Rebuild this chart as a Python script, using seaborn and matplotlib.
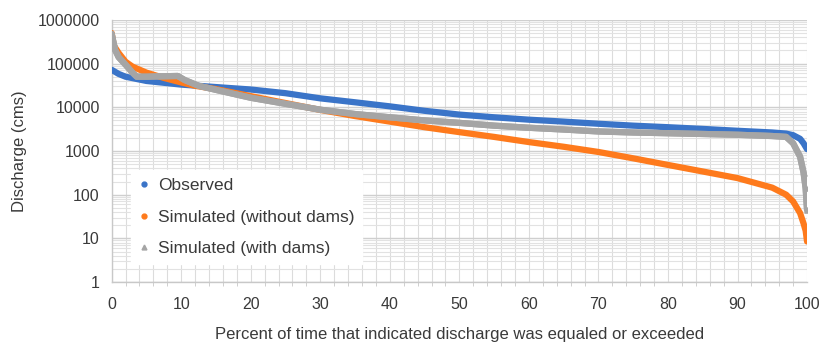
import numpy as np
import pandas as pd
import matplotlib
matplotlib.use("Agg")
import matplotlib.pyplot as plt
import seaborn as sns
from matplotlib.lines import Line2D
from matplotlib.ticker import LogLocator, MultipleLocator, FixedLocator

# flow duration curves
obs_pct = [0, 1, 2, 5, 10, 15, 20, 25, 30, 35, 40, 45, 50, 55, 60, 65, 70, 75, 80, 85, 90, 95, 97, 98, 99, 99.5, 100]
obs_q = [72000, 58000, 50000, 40000, 33000, 29000, 25500, 21000, 16000, 13000, 10500, 8300, 6800, 5900, 5200, 4700, 4200, 3800, 3500, 3200, 2900, 2650, 2500, 2300, 1900, 1500, 1100]

nodam_pct = [0, 0.3, 1, 2, 3, 5, 7.5, 10, 12, 15, 20, 25, 30, 35, 40, 45, 50, 55, 60, 65, 70, 75, 80, 85, 90, 95, 97, 98, 99, 99.5, 99.8, 100]
nodam_q = [500000, 260000, 175000, 110000, 85000, 62000, 47000, 37000, 31000, 26000, 18000, 12500, 8700, 6300, 4700, 3500, 2700, 2100, 1600, 1250, 950, 680, 480, 340, 240, 145, 100, 70, 38, 22, 15, 8.5]

dam_pct = [0, 0.5, 1, 2, 3, 3.6, 5, 7, 9.5, 10.5, 12.5, 15, 20, 25, 30, 35, 40, 45, 50, 55, 60, 65, 70, 75, 80, 85, 90, 95, 97, 98, 99, 99.5, 99.8, 100]
dam_q = [480000, 205000, 140000, 94000, 62000, 50000, 50000, 51000, 52000, 42000, 31000, 25000, 16500, 12000, 8800, 7000, 5900, 5000, 4400, 3800, 3400, 3100, 2800, 2650, 2550, 2450, 2350, 2200, 2100, 1500, 740, 320, 140, 45]

series = ["Observed", "Simulated (without dams)", "Simulated (with dams)"]
colors = ["#3a74c8", "#fe7a1c", "#a5a5a5"]

df = pd.concat([
    pd.DataFrame({"pct": obs_pct, "q": obs_q, "series": series[0]}),
    pd.DataFrame({"pct": nodam_pct, "q": nodam_q, "series": series[1]}),
    pd.DataFrame({"pct": dam_pct, "q": dam_q, "series": series[2]}),
])

sns.set_style("white")
plt.rcParams['font.family'] = ['Liberation Sans', 'DejaVu Sans']
txt = "#3a3a3a"

fig = plt.figure(figsize=(8.21, 3.42), dpi=100)
ax = fig.add_axes([0.136, 0.175, 0.847, 0.767])

sns.lineplot(data=df, x="pct", y="q", hue="series", palette=dict(zip(series, colors)),
             hue_order=series, sort=False,
             linewidth=4.5, legend=False, ax=ax, zorder=3)
# grey curve on top like the reference
sns.lineplot(data=df[df.series == series[2]], x="pct", y="q", color=colors[2],
             sort=False, linewidth=4.5, legend=False, ax=ax, zorder=4)
ax.scatter(dam_pct[-3:], dam_q[-3:], marker="^", s=14, color=colors[2], zorder=5)

ax.set_yscale("log")
ax.set_xlim(0, 100)
ax.set_ylim(1, 1000000)
ax.xaxis.set_major_locator(MultipleLocator(10))
ax.xaxis.set_minor_locator(MultipleLocator(2))
ax.yaxis.set_major_locator(FixedLocator([1, 10, 100, 1000, 10000, 100000, 1000000]))
ax.yaxis.set_minor_locator(LogLocator(base=10, subs=np.arange(2, 10)))
ax.set_yticklabels(["1", "10", "100", "1000", "10000", "100000", "1000000"])
ax.yaxis.set_minor_formatter(plt.NullFormatter())

ax.grid(which="major", axis="y", color="#cfcfcf", linewidth=1.0)
ax.grid(which="minor", axis="y", color="#e2e2e2", linewidth=0.8)
ax.grid(which="both", axis="x", color="#dcdcdc", linewidth=0.8)

for s in ["top", "right"]:
    ax.spines[s].set_visible(False)
for s in ["left", "bottom"]:
    ax.spines[s].set_color("#c8c8c8")
    ax.spines[s].set_linewidth(1.0)

ax.tick_params(axis="both", which="major", labelsize=11.5, colors="#c8c8c8", labelcolor=txt, length=5)
ax.tick_params(axis="x", which="minor", colors="#c8c8c8", length=3, bottom=True)
ax.tick_params(axis="y", which="minor", length=0)
ax.tick_params(axis="x", pad=6)

ax.set_xlabel("Percent of time that indicated discharge was equaled or exceeded", fontsize=12, color=txt, labelpad=10.5)
ax.set_ylabel("Discharge (cms)", fontsize=12, color=txt, labelpad=8)

handles = [
    Line2D([], [], linestyle="none", marker="o", markersize=3.5, color=colors[0]),
    Line2D([], [], linestyle="none", marker="o", markersize=3.5, color=colors[1]),
    Line2D([], [], linestyle="none", marker="^", markersize=3.5, color=colors[2]),
]
leg = ax.legend(handles, series, loc="lower left", bbox_to_anchor=(0.015, 0.035), frameon=True,
                fontsize=12.5, handlelength=0.6, handletextpad=0.5, labelspacing=0.95,
                borderpad=0.45, fancybox=False)
leg.get_frame().set_edgecolor("white")
leg.get_frame().set_facecolor("white")
leg.get_frame().set_alpha(1)
for t in leg.get_texts():
    t.set_color(txt)

fig.savefig("out.png", dpi=100)
